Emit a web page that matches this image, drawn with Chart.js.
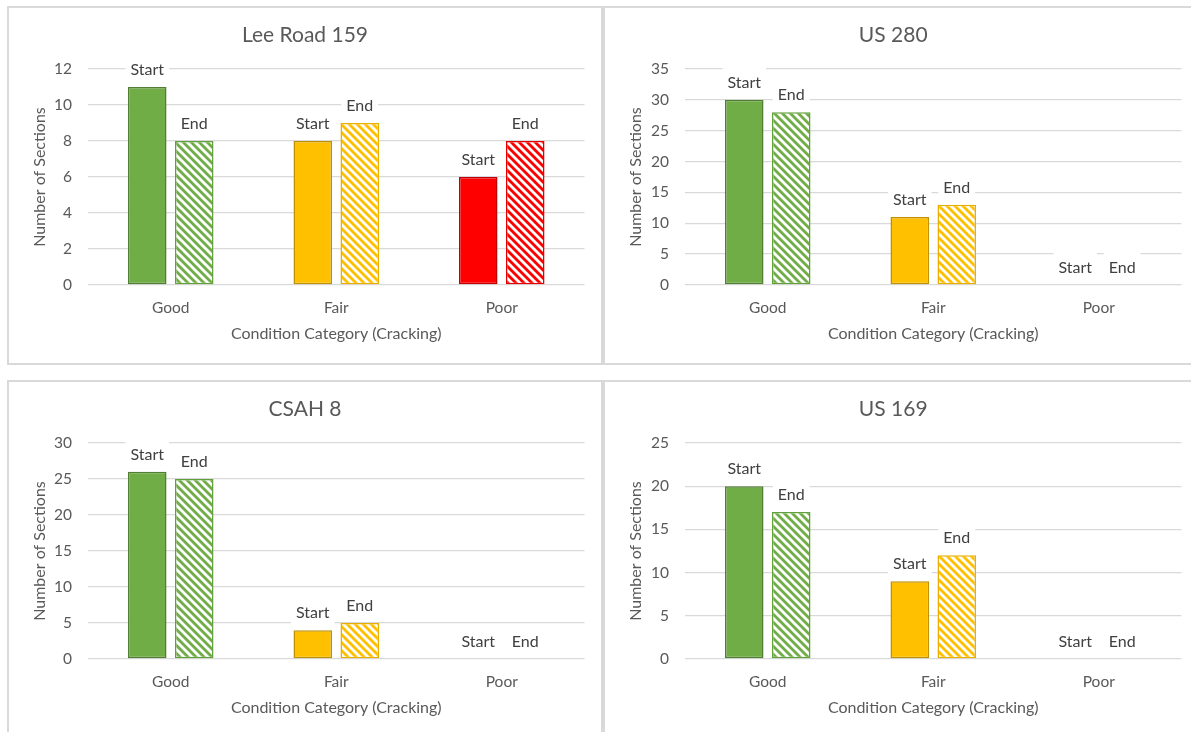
<!DOCTYPE html>
<html>
<head>
<meta charset="utf-8">
<script src="https://cdn.jsdelivr.net/npm/chart.js@4"></script>
<style>
  html, body { margin:0; padding:0; background:#fff; width:1191px; height:732px; overflow:hidden; }
  .panel { position:absolute; box-sizing:border-box; border:2px solid #d9d9d9; background:#fff; overflow:hidden; }
  .panel canvas { position:absolute; left:0; top:0; }
</style>
</head>
<body>
<div class="panel" id="p0" style="left:7px; top:6px; width:596px; height:359px;"><canvas id="c0"></canvas></div>
<div class="panel" id="p1" style="left:603px; top:6px; width:620px; height:359px;"><canvas id="c1"></canvas></div>
<div class="panel" id="p2" style="left:7px; top:380px; width:596px; height:400px;"><canvas id="c2"></canvas></div>
<div class="panel" id="p3" style="left:603px; top:380px; width:620px; height:400px;"><canvas id="c3"></canvas></div>
<script>
// ---- data ----
const categories = ['Good', 'Fair', 'Poor'];
const titles = ['Lee Road 159', 'US 280', 'CSAH 8', 'US 169'];
const leeStart = [11, 8, 6];
const leeEnd = [8, 9, 8];
const us280Start = [30, 11, 0];
const us280End = [28, 13, 0];
const csahStart = [26, 4, 0];
const csahEnd = [25, 5, 0];
const us169Start = [20, 9, 0];
const us169End = [17, 12, 0];
const yMaxes = [12, 35, 30, 25];
const ySteps = [2, 5, 5, 5];
const seriesLabels = ['Start', 'End'];
const xTitle = 'Condition Category (Cracking)';
const yTitle = 'Number of Sections';

const startSets = [leeStart, us280Start, csahStart, us169Start];
const endSets = [leeEnd, us280End, csahEnd, us169End];

// ---- styling ----
const FONT = 'Lato, "Open Sans", sans-serif';
const fills = ['#70AD47', '#FFC000', '#FF0000'];
const startBorders = ['#507E32', '#BF9000', '#C00000'];
const endBorders = ['#62A03B', '#E8AE00', '#E00000'];

function hatch(color) {
  const c = document.createElement('canvas');
  c.width = 8; c.height = 8;
  const g = c.getContext('2d');
  g.fillStyle = '#fff';
  g.fillRect(0, 0, 8, 8);
  g.strokeStyle = color;
  g.lineWidth = 2.8;
  g.lineCap = 'square';
  for (const k of [-8, 0, 8]) {
    g.beginPath();
    g.moveTo(k - 1, -1);
    g.lineTo(k + 9, 9);
    g.stroke();
  }
  return c;
}

const LABEL_FONT = '16px ' + FONT;
const labelPlugin = {
  id: 'barLabels',
  beforeDatasetsDraw(chart) {
    const ctx = chart.ctx;
    ctx.save();
    ctx.font = LABEL_FONT;
    chart.data.datasets.forEach((ds, i) => {
      const meta = chart.getDatasetMeta(i);
      meta.data.forEach(el => {
        const w = ctx.measureText(ds.label).width;
        const cy = el.y - 17;
        ctx.fillStyle = '#ffffff';
        ctx.fillRect(el.x - w / 2 - 5, cy - 15, w + 10, 29);
      });
    });
    ctx.restore();
  },
  afterDatasetsDraw(chart) {
    const ctx = chart.ctx;
    ctx.save();
    ctx.font = LABEL_FONT;
    ctx.fillStyle = '#404040';
    ctx.textAlign = 'center';
    ctx.textBaseline = 'middle';
    chart.data.datasets.forEach((ds, i) => {
      const meta = chart.getDatasetMeta(i);
      meta.data.forEach(el => {
        ctx.fillText(ds.label, el.x, el.y - 17);
      });
    });
    ctx.restore();
  }
};

const canvasW = [592, 586, 592, 586];
const yAxisW = [79, 80, 79, 80];
const padRight = [0, 9.5, 0, 9.5];
const rightAxisW = [16.5, 0, 16.5, 0];

for (let p = 0; p < 4; p++) {
  const cv = document.getElementById('c' + p);
  cv.width = canvasW[p];
  cv.height = 355;
  cv.style.width = canvasW[p] + 'px';
  cv.style.height = '355px';
  const ctx = cv.getContext('2d');
  const patterns = fills.map(hatch).map(h => ctx.createPattern(h, 'repeat'));

  const scales = {
    x: {
      grid: { display: false, drawTicks: false },
      border: { display: false },
      ticks: { color: '#595959', font: { family: FONT, size: 15.5 }, padding: 13.7 },
      title: {
        display: true,
        text: xTitle,
        color: '#595959',
        font: { family: FONT, size: 16, lineHeight: 1.2 },
        padding: { top: 0, bottom: 19.4 }
      },
      afterFit(scale) { scale.height = 78; }
    },
    y: {
      min: 0,
      max: yMaxes[p],
      grid: { color: '#d9d9d9', lineWidth: 1.3, drawTicks: false },
      border: { display: false },
      ticks: { stepSize: ySteps[p], color: '#595959', font: { family: FONT, size: 15.5 }, padding: 16 },
      title: {
        display: true,
        text: yTitle,
        color: '#595959',
        font: { family: FONT, size: 16, lineHeight: 1.2 },
        padding: { top: 21.4, bottom: 0 }
      },
      afterFit(scale) { scale.width = yAxisW[p]; }
    }
  };
  if (rightAxisW[p] > 0) {
    scales.yRight = {
      position: 'right',
      display: true,
      grid: { display: false, drawTicks: false },
      border: { display: false },
      ticks: { display: false },
      afterFit(scale) { scale.width = rightAxisW[p]; }
    };
  }

  new Chart(cv, {
    type: 'bar',
    data: {
      labels: categories,
      datasets: [
        {
          label: seriesLabels[0],
          data: startSets[p],
          backgroundColor: fills,
          borderColor: startBorders,
          borderWidth: 1.5,
          borderSkipped: false,
          categoryPercentage: 0.568,
          barPercentage: 0.82
        },
        {
          label: seriesLabels[1],
          data: endSets[p],
          backgroundColor: patterns,
          borderColor: endBorders,
          borderWidth: 1.5,
          borderSkipped: false,
          categoryPercentage: 0.568,
          barPercentage: 0.82
        }
      ]
    },
    options: {
      responsive: false,
      animation: false,
      layout: { padding: { left: 0, right: padRight[p], top: 0, bottom: 0 } },
      plugins: {
        legend: { display: false },
        tooltip: { enabled: false },
        title: {
          display: true,
          text: titles[p],
          color: '#595959',
          font: { family: FONT, size: 21, weight: 'normal', lineHeight: 1.2 },
          padding: { top: 14.4, bottom: 21.4 }
        }
      },
      scales: scales
    },
    plugins: [labelPlugin]
  });
}
</script>
</body>
</html>
